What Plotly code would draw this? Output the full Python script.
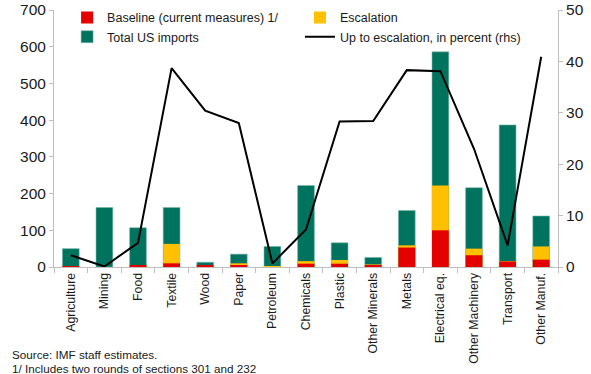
import plotly.graph_objects as go

categories = ["Agriculture", "Mining", "Food", "Textile", "Wood", "Paper", "Petroleum",
              "Chemicals", "Plastic", "Other Minerals", "Metals", "Electrical eq.",
              "Other Machinery", "Transport", "Other Manuf."]

# Cumulative levels (billions USD)
total_imports = [50, 162, 107, 162, 13, 35, 56, 222, 66, 26, 154, 586, 216, 387, 139]
up_to_escalation = [1, 0, 5, 63, 4, 10, 0.4, 16, 19, 7, 59, 222, 50, 16, 56]
baseline = [0.5, 0, 4, 10, 3, 4, 0, 9, 9, 4, 53, 100, 32, 15, 20]
# Percent (rhs)
pct_escalation = [2.3, 0.1, 4.7, 38.7, 30.4, 28.0, 0.7, 7.3, 28.3, 28.4, 38.3, 38.1, 23.0, 4.2, 40.9]

RED = "#E50000"
YELLOW = "#FFC000"
TEAL = "#00735F"
FONT = "Liberation Sans, Arial, sans-serif"
TXT = "#1a1a1a"

fig = go.Figure()
fig.add_trace(go.Bar(x=categories, y=total_imports, name="Total US imports",
                     marker=dict(color=TEAL, line=dict(color="#7FB9AF", width=0.6)),
                     legend="legend", legendrank=2))
fig.add_trace(go.Bar(x=categories, y=up_to_escalation, name="Escalation",
                     marker=dict(color=YELLOW, line=dict(width=0)),
                     legend="legend2", legendrank=1))
fig.add_trace(go.Bar(x=categories, y=baseline, name="Baseline (current measures) 1/",
                     marker=dict(color=RED, line=dict(width=0)),
                     legend="legend", legendrank=1))
fig.add_trace(go.Scatter(x=categories, y=pct_escalation, yaxis="y2", mode="lines",
                         name="Up to escalation, in percent (rhs)",
                         line=dict(color="black", width=2),
                         legend="legend2", legendrank=2))

legend_common = dict(orientation="v", yanchor="top", xanchor="left",
                     bgcolor="rgba(0,0,0,0)", font=dict(size=12.5, family=FONT, color=TXT),
                     itemwidth=30, tracegroupgap=0, traceorder="normal")

fig.update_layout(
    width=591, height=374,
    margin=dict(l=54, r=33, t=10, b=107, autoexpand=False),
    barmode="overlay", bargap=0.5,
    plot_bgcolor="white", paper_bgcolor="white",
    font=dict(family=FONT, size=14, color=TXT),
    showlegend=True,
    legend=dict(x=0.026, y=1.028, **legend_common),
    legend2=dict(x=0.488, y=1.028, **legend_common),
    xaxis=dict(showgrid=False, showline=True, linecolor="#BFBFBF", linewidth=1,
               ticks="outside", tickson="boundaries", ticklen=5, tickcolor="#BFBFBF",
               tickangle=-90, tickfont=dict(size=12.3), range=[-0.5, 14.5], automargin=False),
    yaxis=dict(range=[0, 700], dtick=100, showgrid=False, showline=True,
               linecolor="#BFBFBF", ticks="outside", ticklen=4, tickcolor="#BFBFBF",
               zeroline=False, tickfont=dict(size=15.5), automargin=False),
    yaxis2=dict(range=[0, 50], dtick=10, overlaying="y", side="right", showgrid=False,
                showline=True, linecolor="#BFBFBF", ticks="outside", ticklen=4,
                tickcolor="#BFBFBF", zeroline=False, tickfont=dict(size=15.5), automargin=False),
    annotations=[
        dict(text="Source: IMF staff estimates.", xref="paper", yref="paper",
             x=-0.087, y=-0.342, xanchor="left", yanchor="middle", showarrow=False,
             font=dict(size=11.7, family=FONT, color=TXT)),
        dict(text="1/ Includes two rounds of sections 301 and 232", xref="paper", yref="paper",
             x=-0.087, y=-0.393, xanchor="left", yanchor="middle", showarrow=False,
             font=dict(size=11.7, family=FONT, color=TXT)),
    ],
)

fig.write_html(
    "out.html",
    config={"displayModeBar": False},
    post_script="document.body.style.margin='0';document.body.style.overflow='hidden';",
)
